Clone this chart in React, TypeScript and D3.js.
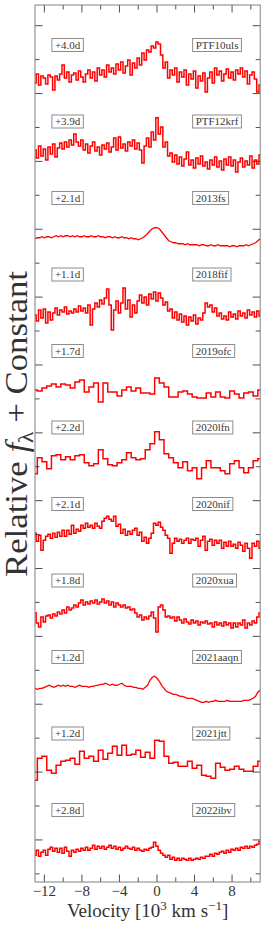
import React from 'react';
import * as d3 from 'd3';

// ---------------- data ----------------
const VEL_START = -13;
const VEL_END = 11;
const STEP_FINE = 0.25;
const STEP_COARSE = 0.5;
const FLUX_SCALE = 2.95; // tick units per unit of relative flux

const X_MAJOR = [-12, -8, -4, 0, 4, 8];
const X_MINOR = [-10, -6, -2, 2, 6, 10];

const NAMES = ['PTF10uls', 'PTF12krf', '2013fs', '2018fif', '2019ofc', '2020lfn', '2020nif', '2020xua', '2021aaqn', '2021jtt', '2022ibv'];
const PHASES = ['+4.0d', '+3.9d', '+2.1d', '+1.1d', '+1.7d', '+2.2d', '+2.1d', '+1.8d', '+1.2d', '+1.2d', '+2.8d'];
const OFFSETS = [24.40, 22.28, 19.75, 17.47, 15.23, 13.15, 10.89, 8.48, 6.47, 4.26, 1.61];
const SMOOTH = [false, false, true, false, false, false, false, false, true, false, false];
const STEPS = [STEP_FINE, STEP_FINE, STEP_FINE, STEP_FINE, STEP_COARSE, STEP_COARSE, STEP_FINE, STEP_FINE, STEP_FINE, STEP_COARSE, STEP_FINE];

const PTF10uls = [0.97,1.06,0.95,1.04,1.02,0.96,1.05,1.03,0.90,1.04,
 1.00,1.06,1.15,1.02,1.08,0.98,1.05,1.07,1.00,1.09,
 1.03,0.98,1.06,1.10,1.02,1.08,0.99,1.12,1.05,1.10,
 1.03,1.15,1.08,1.12,1.06,1.16,1.10,1.18,1.07,1.14,
 1.20,1.05,1.17,1.12,1.22,1.15,1.27,1.20,1.30,1.28,
 1.34,1.32,1.38,1.36,1.25,1.12,1.18,1.02,1.10,1.05,
 1.12,0.98,1.08,1.03,1.10,0.95,1.06,1.01,1.09,0.92,
 1.04,0.99,1.07,0.88,1.02,1.08,0.97,1.12,1.05,1.09,
 0.99,1.06,1.11,1.02,1.08,1.00,1.10,1.06,1.12,1.03,
 1.09,0.96,1.05,1.08,1.01,0.88,0.95];

const PTF12krf = [1.02,0.94,1.06,0.96,1.03,0.92,1.05,0.98,1.08,0.95,
 1.04,1.09,1.03,1.10,1.05,1.12,1.07,1.18,1.10,1.06,
 1.12,1.02,1.08,0.99,1.06,1.10,1.01,1.05,0.97,1.07,
 1.03,1.09,1.00,1.05,1.14,1.02,1.15,1.04,1.08,1.01,
 1.10,1.06,1.12,1.03,1.09,1.02,0.89,1.06,1.14,1.05,
 1.20,1.12,1.34,1.18,1.25,1.05,1.10,0.96,0.99,0.90,
 0.97,0.88,0.95,0.86,0.93,1.00,0.87,0.92,0.84,0.94,
 0.88,0.96,0.86,0.90,0.83,0.92,0.87,0.95,0.85,0.91,
 0.82,0.93,0.87,0.95,0.86,0.92,0.80,0.90,0.94,0.85,
 0.91,0.87,0.96,0.84,0.92,0.88,0.97];

const SN2013fs = [0.99,1.00,1.00,1.01,1.00,1.01,1.01,1.00,1.01,1.02,
 1.01,1.02,1.01,1.02,1.02,1.01,1.02,1.01,1.02,1.01,
 1.01,1.02,1.01,1.01,1.02,1.01,1.01,1.02,1.01,1.01,
 1.00,1.01,1.01,1.00,1.01,1.00,1.00,1.01,1.00,1.00,
 0.99,1.00,0.99,0.99,0.98,0.99,1.00,1.02,1.04,1.07,
 1.09,1.10,1.10,1.09,1.06,1.03,1.00,0.97,0.96,0.95,
 0.95,0.94,0.94,0.94,0.93,0.94,0.93,0.93,0.93,0.93,
 0.92,0.93,0.93,0.92,0.92,0.93,0.92,0.92,0.93,0.92,
 0.92,0.92,0.92,0.91,0.92,0.92,0.91,0.92,0.92,0.92,
 0.93,0.92,0.93,0.94,0.95,0.97,0.99];

const SN2018fif = [1.00,0.94,1.05,0.97,1.06,0.92,1.03,0.95,1.02,1.07,
 1.00,1.05,1.03,1.08,1.01,1.04,1.02,1.06,1.03,1.09,
 1.04,1.07,1.02,1.10,0.90,1.06,1.12,1.08,1.15,1.11,
 1.17,1.26,1.10,0.85,1.05,1.14,1.02,1.12,1.27,1.06,
 1.15,0.98,1.10,1.02,1.14,1.20,1.12,1.18,1.10,1.21,
 1.16,1.23,1.14,1.22,1.17,1.10,1.13,1.04,1.06,0.97,
 1.03,0.95,1.01,0.93,0.99,0.90,0.98,0.94,1.00,0.91,
 0.97,0.95,1.02,1.12,1.08,1.10,1.03,1.07,0.99,1.02,
 0.96,0.99,0.95,1.03,0.98,1.01,0.96,1.04,0.99,1.02,
 0.97,1.05,1.00,1.03,0.98,1.04,0.99];

const SN2019ofc = [1.01,1.00,1.03,1.05,1.07,1.04,1.07,1.06,1.03,1.09,
 1.11,0.99,1.04,1.08,0.89,1.08,0.99,0.99,0.95,1.01,
 1.04,1.00,1.03,0.98,0.98,0.97,1.13,1.08,1.04,0.94,
 0.94,0.99,1.00,0.97,0.94,0.93,0.93,0.98,0.94,0.99,
 0.94,0.93,1.00,0.97,0.93,0.98,0.99,0.95,1.01];

const SN2020lfn = [0.88,1.04,1.00,0.93,1.06,1.07,1.02,1.05,1.02,1.06,
 1.07,0.99,0.96,0.98,1.12,1.03,0.97,0.96,0.99,1.02,
 1.09,1.04,1.02,1.03,1.12,1.18,1.30,1.22,1.08,1.04,
 0.99,0.94,1.00,0.91,0.94,0.83,0.94,1.01,0.94,0.94,
 0.91,0.88,0.98,1.01,0.94,0.89,0.94,1.01,1.03];

const SN2020nif = [1.05,0.97,1.03,0.88,0.98,1.02,1.04,1.00,1.05,1.01,
 1.06,1.02,1.08,1.02,1.08,1.04,1.13,1.05,1.09,1.07,
 1.13,1.10,1.15,1.11,1.13,1.10,1.15,1.12,1.10,1.17,
 1.20,1.22,1.19,1.17,1.22,1.12,1.14,1.05,1.09,1.03,
 1.07,1.04,1.08,1.10,1.03,1.06,0.97,1.01,0.95,1.00,
 1.05,1.15,1.13,1.16,1.11,1.08,1.03,1.00,0.85,0.95,
 1.00,0.97,0.99,0.95,0.98,1.00,0.95,0.99,0.98,1.00,
 0.92,0.98,1.02,0.88,0.97,0.99,0.93,0.98,0.95,0.98,
 0.90,0.96,0.92,0.97,0.92,0.94,0.90,0.96,0.93,0.87,
 0.95,0.90,0.80,0.95,0.92,0.97,0.90];

const SN2020xua = [1.07,0.97,0.93,1.03,0.98,1.04,1.05,1.02,1.06,1.04,
 1.08,1.06,1.10,1.07,1.13,1.10,1.12,1.15,1.13,1.17,
 1.20,1.15,1.18,1.16,1.19,1.17,1.20,1.16,1.18,1.21,
 1.17,1.19,1.15,1.18,1.13,1.17,1.15,1.13,1.15,1.12,
 1.13,1.10,1.11,1.07,1.03,1.05,1.00,1.03,1.01,1.04,
 1.08,1.02,0.88,1.13,1.15,1.10,1.03,1.04,1.02,1.03,
 0.99,1.03,1.00,0.97,1.01,0.98,0.96,1.00,0.97,0.99,
 0.95,0.98,0.97,0.99,0.96,0.97,0.93,0.98,0.95,0.97,
 0.94,0.98,0.95,0.97,0.92,0.97,0.93,0.97,0.95,1.00,
 0.92,0.97,0.95,0.99,0.97,1.03,1.07];

const SN2021aaqn = [1.00,0.99,1.00,1.00,1.01,1.02,1.03,1.02,1.01,1.02,
 1.03,1.02,1.03,1.02,1.03,1.02,1.02,1.01,1.02,1.03,
 1.02,1.02,1.02,1.01,1.02,1.02,1.03,1.03,1.04,1.04,
 1.05,1.04,1.03,1.04,1.03,1.03,1.04,1.05,1.03,1.02,
 1.02,1.02,1.01,1.01,1.00,1.00,0.99,1.01,1.03,1.08,
 1.11,1.12,1.10,1.07,1.03,1.00,0.97,0.96,0.95,0.94,
 0.94,0.93,0.92,0.92,0.91,0.90,0.90,0.90,0.89,0.88,
 0.87,0.86,0.86,0.87,0.86,0.87,0.87,0.88,0.87,0.87,
 0.87,0.87,0.88,0.87,0.87,0.87,0.87,0.87,0.87,0.88,
 0.88,0.88,0.89,0.90,0.92,0.96,0.98];

const SN2021jtt = [0.83,1.05,1.07,0.93,0.90,0.98,1.02,1.03,1.05,0.99,
 1.12,1.05,1.07,1.02,1.13,1.04,1.10,1.17,1.08,1.18,
 1.08,1.09,1.13,1.06,1.11,1.05,1.23,1.22,1.07,1.00,
 1.01,0.97,0.97,1.02,0.95,0.98,0.88,0.87,0.85,1.00,
 0.96,0.93,0.94,0.97,0.94,0.92,0.92,0.97,1.02];

const SN2022ibv = [0.98,1.03,0.97,1.01,1.03,0.98,1.04,1.06,1.02,1.05,
 1.01,1.05,1.00,1.06,1.02,0.97,1.03,1.01,1.04,1.02,
 1.05,1.03,1.06,1.03,1.05,1.08,1.04,1.07,1.05,1.07,
 1.04,1.06,1.08,1.05,1.07,1.04,1.06,1.03,1.05,1.07,
 1.05,1.04,1.06,1.03,1.05,1.03,1.02,1.04,1.03,1.05,
 1.06,1.11,1.07,1.03,1.00,0.98,0.96,0.98,0.94,0.96,
 0.93,0.95,0.93,0.95,0.94,0.93,0.95,0.93,0.94,0.95,
 0.94,0.96,0.95,0.97,0.97,0.99,0.97,1.00,0.99,1.01,
 1.02,1.00,1.03,1.01,1.04,1.03,1.05,1.03,1.06,1.05,
 1.07,1.05,1.07,1.06,1.08,1.09,1.12];

const FLUXES = [PTF10uls, PTF12krf, SN2013fs, SN2018fif, SN2019ofc, SN2020lfn, SN2020nif, SN2020xua, SN2021aaqn, SN2021jtt, SN2022ibv];

const Y_MIN = 0.76;
const Y_MAX = 26.61;
const Y_MAJOR = d3.range(2, 27, 2);
const Y_MINOR = d3.range(1, 26, 2);

// ---------------- layout ----------------
const W = 266;
const H = 927;
const PL = 35, PR = 260.2, PT = 5, PB = 882;
const SERIF = "'Liberation Serif', 'Times New Roman', serif";
const LABEL_FONT = 11;
const LABEL_V_LEFT = -11.2;
const LABEL_V_RIGHT = 3.8;
const LABEL_TOP = 40;
const LABEL_GAP = 76.5;

let ctx: CanvasRenderingContext2D | null = null;
function textWidth(s: string, size: number) {
  if (!ctx) ctx = document.createElement('canvas').getContext('2d');
  if (!ctx) return s.length * size * 0.5;
  ctx.font = `${size}px ${SERIF}`;
  return ctx.measureText(s).width;
}

function Label({ x, y, text }: { x: number; y: number; text: string }) {
  const w = textWidth(text, LABEL_FONT);
  const padX = 3, h = 13;
  return (
    <g>
      <rect x={x} y={y - h / 2} width={w + 2 * padX} height={h} fill="#fff" stroke="#8c8c8c" strokeWidth={1} />
      <text x={x + padX} y={y + 3.8} fontFamily={SERIF} fontSize={LABEL_FONT} fill="#3a3a3a">{text}</text>
    </g>
  );
}

export default function App() {
  const x = d3.scaleLinear().domain([VEL_START, VEL_END]).range([PL, PR]);
  const y = d3.scaleLinear().domain([Y_MIN, Y_MAX]).range([PB, PT]);

  const paths = FLUXES.map((flux, i) => {
    const step = STEPS[i];
    const line = d3.line<number>()
      .x((_, k) => x(VEL_START + k * step))
      .y((f) => y(OFFSETS[i] + (f - 1) * FLUX_SCALE))
      .curve(SMOOTH[i] ? d3.curveLinear : d3.curveStep);
    return line(flux) || '';
  });

  const tickColor = '#222';
  const majLen = 7.5, minLen = 4.5;

  return (
    <svg width={W} height={H} style={{ position: 'absolute', left: 0, top: 0, background: '#fff' }}>
      <defs>
        <clipPath id="plotclip">
          <rect x={PL} y={PT} width={PR - PL} height={PB - PT} />
        </clipPath>
      </defs>
      <rect x={0} y={0} width={W} height={H} fill="#fff" />
      <g clipPath="url(#plotclip)">
        {paths.map((d, i) => (
          <path key={NAMES[i]} d={d} fill="none" stroke="#ff0000" strokeWidth={SMOOTH[i] ? 1.3 : 1.5} strokeLinejoin="miter" />
        ))}
      </g>
      {/* ticks */}
      <g stroke={tickColor} strokeWidth={0.8}>
        {X_MAJOR.map((v) => (
          <g key={'xm' + v}>
            <line x1={x(v)} x2={x(v)} y1={PB} y2={PB - majLen} />
            <line x1={x(v)} x2={x(v)} y1={PT} y2={PT + majLen} />
          </g>
        ))}
        {X_MINOR.map((v) => (
          <g key={'xn' + v}>
            <line x1={x(v)} x2={x(v)} y1={PB} y2={PB - minLen} />
            <line x1={x(v)} x2={x(v)} y1={PT} y2={PT + minLen} />
          </g>
        ))}
        {Y_MAJOR.map((v) => (
          <g key={'ym' + v}>
            <line x1={PL} x2={PL + majLen} y1={y(v)} y2={y(v)} />
            <line x1={PR} x2={PR - majLen} y1={y(v)} y2={y(v)} />
          </g>
        ))}
        {Y_MINOR.map((v) => (
          <g key={'yn' + v}>
            <line x1={PL} x2={PL + minLen} y1={y(v)} y2={y(v)} />
            <line x1={PR} x2={PR - minLen} y1={y(v)} y2={y(v)} />
          </g>
        ))}
      </g>
      <rect x={PL} y={PT} width={PR - PL} height={PB - PT} fill="none" stroke="#808080" strokeWidth={1} />
      {/* labels */}
      {NAMES.map((n, i) => {
        const ly = PT + LABEL_TOP + i * LABEL_GAP;
        return (
          <g key={'lab' + n}>
            <Label x={x(LABEL_V_LEFT)} y={ly} text={PHASES[i]} />
            <Label x={x(LABEL_V_RIGHT)} y={ly} text={n} />
          </g>
        );
      })}
      {/* x tick labels */}
      {X_MAJOR.map((v) => (
        <text key={'xl' + v} x={x(v)} y={PB + 13.5} textAnchor="middle" fontFamily={SERIF} fontSize={15} fill="#333">
          {v < 0 ? '\u2212' + Math.abs(v) : String(v)}
        </text>
      ))}
      {/* x axis label */}
      <text x={(PL + PR) / 2} y={PB + 35} textAnchor="middle" fontFamily={SERIF} fontSize={19} fill="#333">
        Velocity [10<tspan dy={-7} fontSize={13}>3</tspan><tspan dy={7}> km s</tspan><tspan dy={-7} fontSize={13}>{'\u22121'}</tspan><tspan dy={7}>]</tspan>
      </text>
      {/* y axis label */}
      <text transform={`translate(27, 424) rotate(-90)`} textAnchor="middle" fontFamily={SERIF} fontSize={31} fill="#333"
        textLength={306} lengthAdjust="spacingAndGlyphs">
        Relative <tspan fontStyle="italic">f</tspan><tspan dy={6} fontSize={21}>{'\u03bb'}</tspan><tspan dy={-6}> + Constant</tspan>
      </text>
    </svg>
  );
}
